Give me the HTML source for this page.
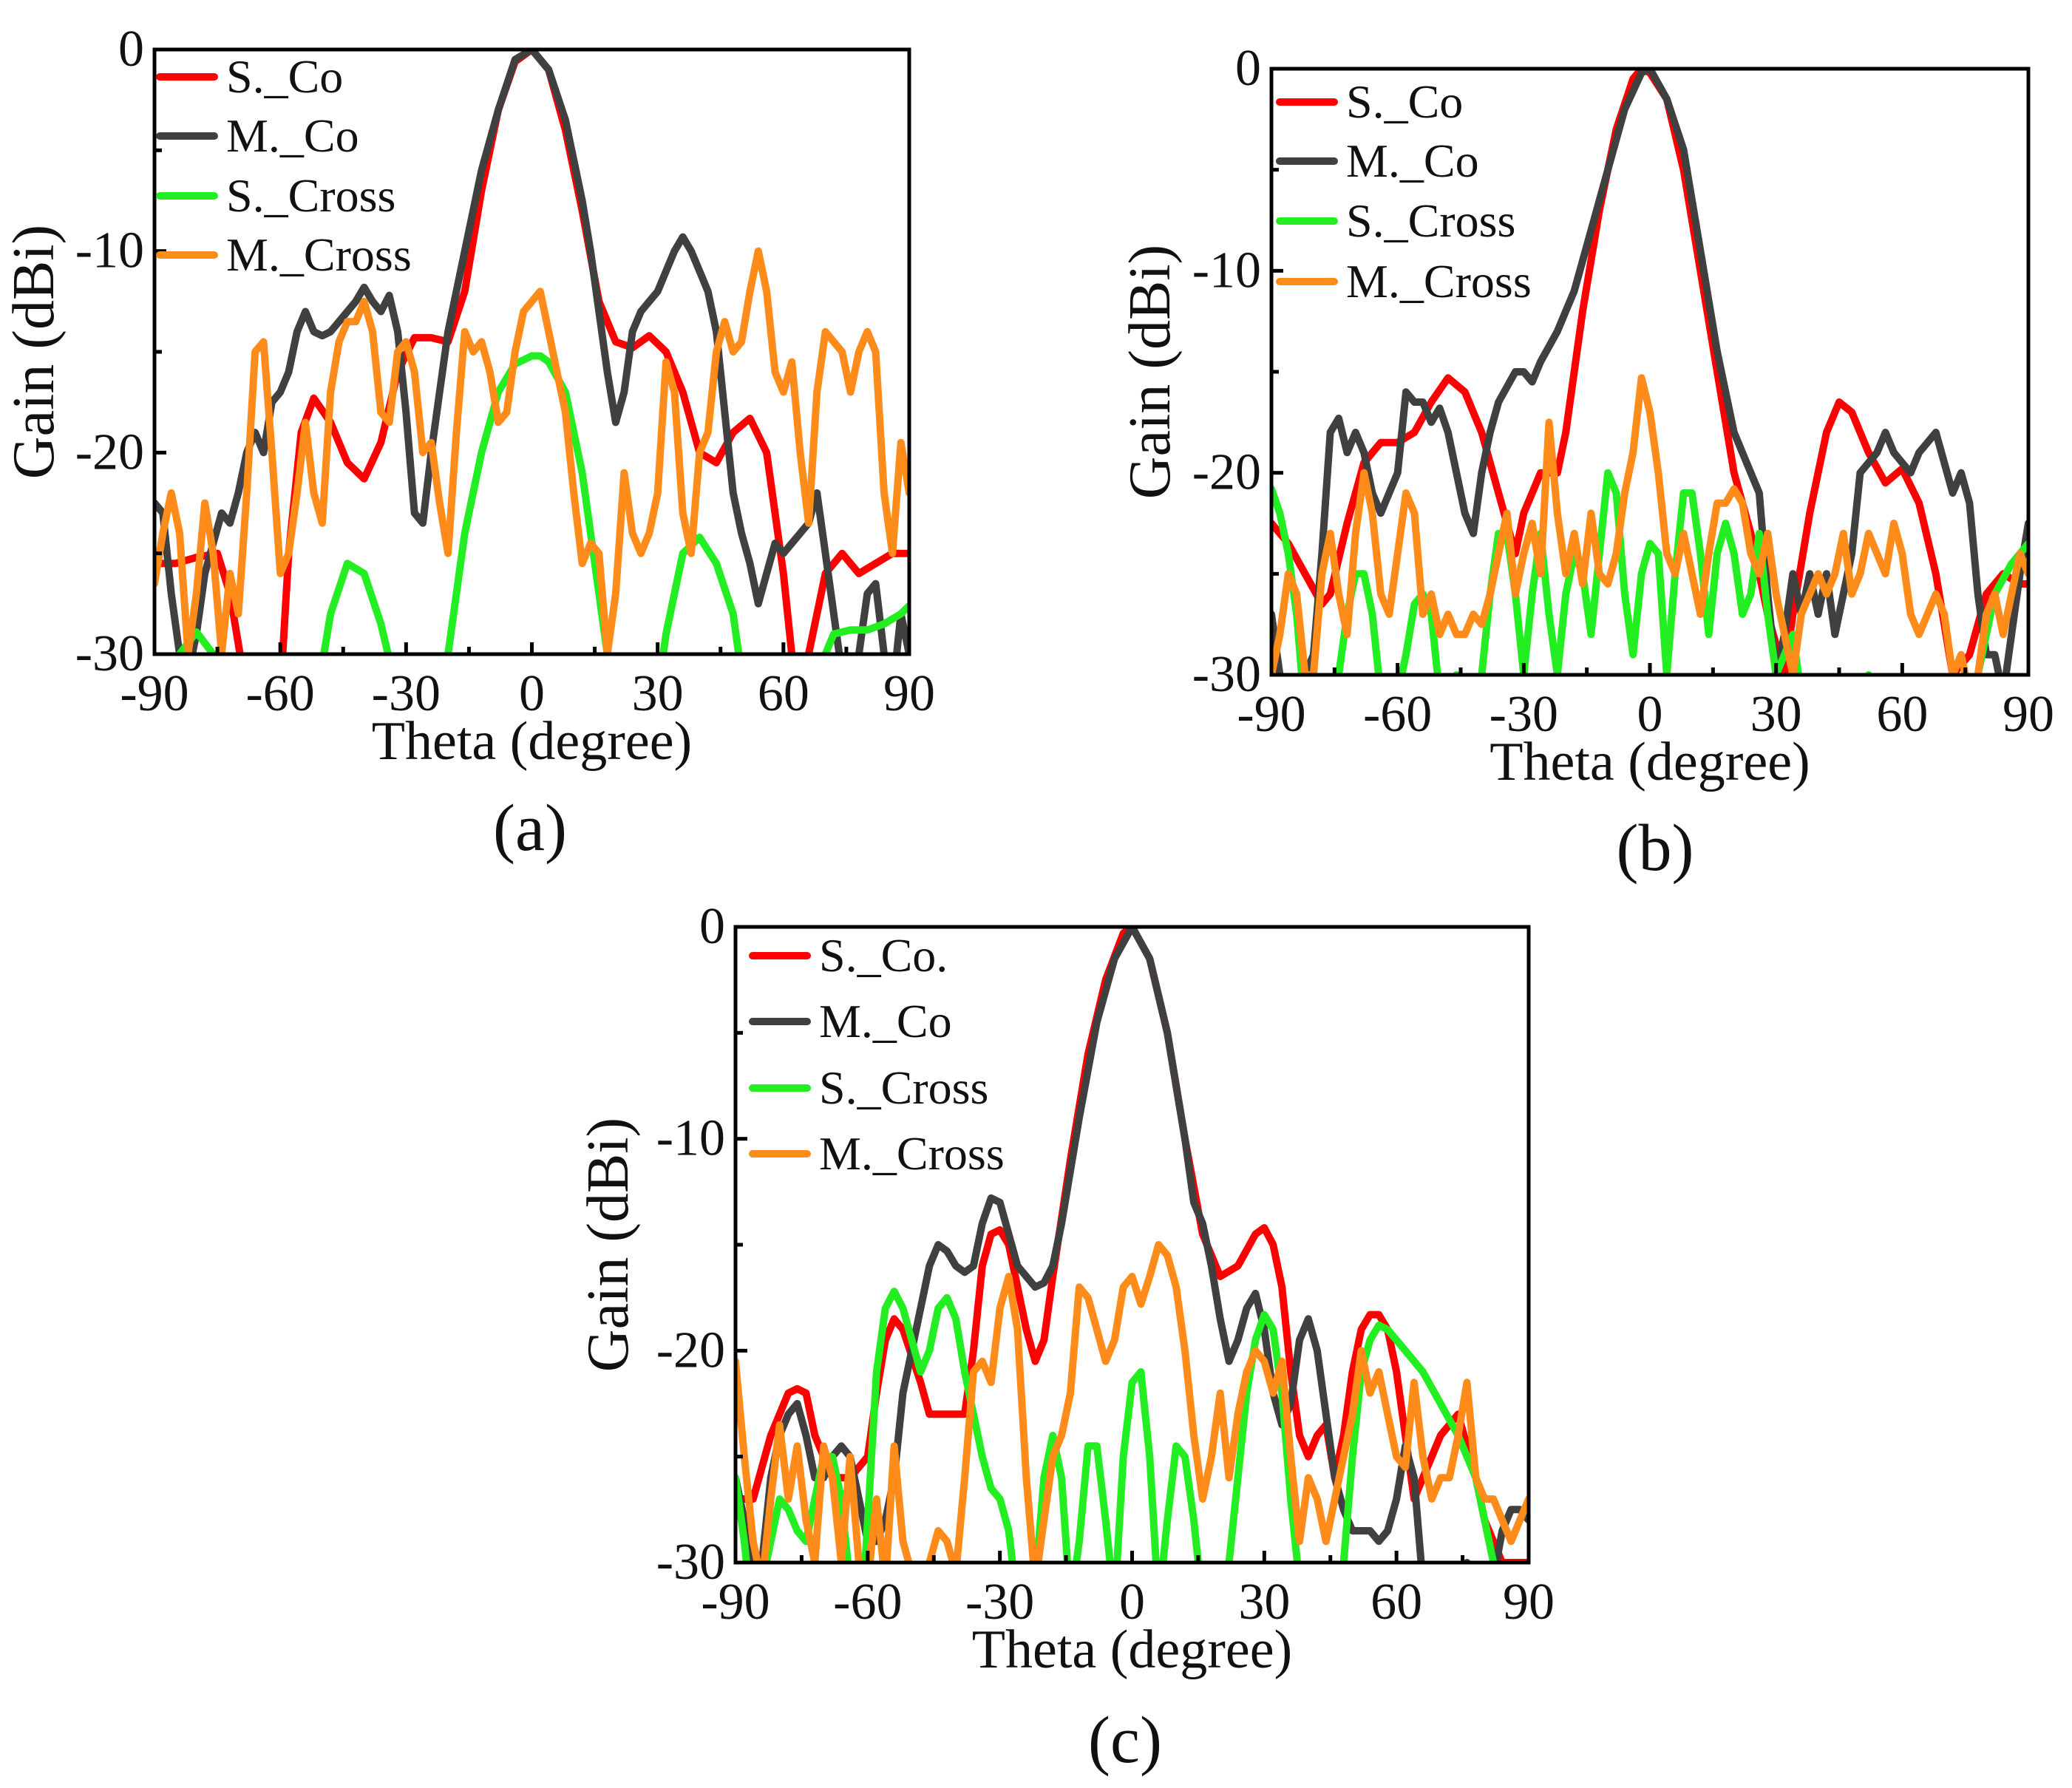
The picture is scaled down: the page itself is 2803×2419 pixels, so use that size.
<!DOCTYPE html>
<html><head><meta charset="utf-8"><style>
html,body{margin:0;padding:0;background:#fff;}
svg{display:block;}
text{font-family:"Liberation Serif",serif;fill:#111;}
</style></head><body>
<svg id="fig" width="2803" height="2419" viewBox="0 0 2803 2419" xmlns="http://www.w3.org/2000/svg"></svg>
<script>
// ---------- Panel (a) data ----------
const aScoT=[-90,-85,-80,-75,-72,-68,-60,-58,-55,-52,-48,-44,-40,-36,-32,-28,-24,-20,-16,-12,-8,-4,0,4,8,12,16,20,24,28,32,36,40,44,48,52,56,60,63,66,70,74,78,82,86,90];
const aScoG=[-25.5,-25.5,-25.2,-25,-27,-32,-32,-25,-19,-17.3,-18.5,-20.5,-21.3,-19.5,-16,-14.3,-14.3,-14.5,-12,-7,-3,-0.6,0,-1,-4,-8,-12.5,-14.5,-14.8,-14.2,-15,-17,-20,-20.5,-19,-18.3,-20,-26,-32,-30,-26,-25,-26,-25.5,-25,-25];
const aMcoT=[-90,-88,-86,-84,-82,-80,-78,-76,-74,-72,-70,-68,-66,-64,-62,-60,-58,-56,-54,-52,-50,-48,-46,-44,-42,-40,-38,-36,-34,-32,-30,-28,-26,-24,-22,-20,-16,-12,-8,-4,0,4,8,12,14,16,18,20,22,24,26,28,30,32,34,36,38,40,42,44,46,48,50,52,54,56,58,60,62,64,66,68,70,72,74,76,78,80,82,84,86,88,90];
const aMcoG=[-22.5,-23,-27,-30,-31,-29,-26,-24.5,-23,-23.5,-22,-20,-19,-20,-17.5,-17,-16,-14,-13,-14,-14.2,-14,-13.5,-13,-12.5,-11.8,-12.5,-13,-12.2,-14,-18,-23,-23.5,-20,-17,-14,-10,-6,-3,-0.5,0,-1,-3.5,-7.5,-10,-13,-16,-18.5,-17,-14,-13,-12.5,-12,-11,-10,-9.3,-10,-11,-12,-14,-18,-22,-24,-25.5,-27.5,-26,-24.5,-25,-24.5,-24,-23.5,-22,-25,-28,-31,-33,-30,-27,-26.5,-30,-32,-28,-30];
const aScrT=[-90,-84,-80,-76,-74,-60,-52,-48,-44,-40,-36,-32,-28,-22,-20,-16,-12,-8,-4,0,2,4,8,12,16,18,20,26,30,32,36,40,44,48,50,56,66,70,72,76,80,84,88,90];
const aScrG=[-31,-30,-28.9,-30,-32,-40,-33,-28,-25.5,-26,-28.5,-32,-40,-34,-30,-24,-20,-17,-15.6,-15.2,-15.2,-15.5,-17,-21,-27,-30,-34,-40,-32,-29,-25,-24.2,-25.5,-28,-31,-40,-34,-30,-29,-28.8,-28.8,-28.5,-28,-27.6];
const aMcrT=[-90,-88,-86,-84,-82,-80,-78,-76,-74,-72,-70,-68,-66,-64,-62,-60,-58,-56,-54,-52,-50,-48,-46,-44,-42,-40,-38,-36,-34,-32,-30,-28,-26,-24,-22,-20,-18,-16,-14,-12,-10,-8,-6,-4,-2,0,2,4,6,8,10,12,14,16,18,20,22,24,26,28,30,32,34,36,38,40,42,44,46,48,50,52,54,56,58,60,62,64,66,68,70,72,74,76,78,80,82,84,86,88,90];
const aMcrG=[-26.5,-24,-22,-24,-30,-27,-22.5,-25,-30,-26,-28,-22,-15,-14.5,-20,-26,-25,-22,-18.5,-22,-23.5,-17,-14.5,-13.5,-13.5,-12.5,-14,-18,-18.5,-15,-14.5,-16,-20,-19.5,-22.5,-25,-19,-14,-15,-14.5,-16,-18.5,-18,-15,-13,-12.5,-12,-14,-16,-18,-22,-25.5,-24.5,-25,-30,-27,-21,-24,-25,-24,-22,-15.5,-17,-23,-25,-20,-19,-15,-13.5,-15,-14.5,-12,-10,-12,-16,-17,-15.5,-20,-23.5,-17,-14,-14.5,-15,-17,-15,-14,-15,-22,-25,-19.5,-22];
// ---------- Panel (b) data ----------
const bScoT=[-90,-86,-82,-78,-76,-72,-68,-64,-60,-56,-52,-48,-44,-40,-36,-32,-30,-26,-22,-20,-16,-12,-8,-4,-2,0,4,8,12,16,20,24,28,32,34,38,42,45,48,52,56,60,64,68,72,76,80,84,88,90];
const bScoG=[-22.5,-23.5,-25,-26.5,-26,-22.5,-19.5,-18.5,-18.5,-18,-16.5,-15.3,-16,-18,-21,-24,-22,-20,-20,-18,-12,-7,-3,-0.5,0,-0.2,-1.5,-5,-10,-15,-20,-23,-27,-30,-27,-22,-18,-16.5,-17,-19,-20.5,-19.8,-21.5,-25,-30,-29,-26,-25,-25.5,-25.5];
const bMcoT=[-90,-88,-84,-80,-78,-76,-74,-72,-70,-68,-66,-64,-62,-60,-58,-56,-54,-52,-50,-48,-46,-44,-42,-40,-38,-36,-32,-30,-28,-26,-22,-18,-14,-10,-6,-2,0,4,8,12,16,20,24,26,28,30,32,34,36,38,40,42,44,46,48,50,52,54,56,58,60,62,64,66,68,70,72,74,76,78,80,82,84,86,88,90];
const bMcoG=[-27,-30,-31,-29,-24,-18,-17.3,-19,-18,-19,-21,-22,-21,-20,-16,-16.5,-16.5,-17.5,-16.8,-18,-20,-22,-23,-20,-18,-16.5,-15,-15,-15.5,-14.5,-13,-11,-8,-5,-2,-0.2,0,-1.5,-4,-9,-14,-18,-20,-21,-26,-30,-28,-25,-27,-25,-27,-25,-28,-26,-24,-20,-19.5,-19,-18,-19,-19.5,-20,-19,-18.5,-18,-19.5,-21,-20,-21.5,-26,-29,-29,-31,-28,-25,-22.5];
const bScrT=[-90,-88,-86,-84,-82,-78,-74,-72,-70,-68,-66,-64,-62,-60,-58,-56,-54,-52,-50,-48,-46,-44,-42,-40,-38,-36,-34,-32,-30,-28,-26,-24,-22,-20,-18,-16,-14,-12,-10,-8,-6,-4,-2,0,2,4,6,8,10,12,14,16,18,20,22,24,26,28,30,32,34,36,40,48,52,54,60,74,78,80,82,86,90];
const bScrG=[-20.8,-22,-24,-27,-32,-35,-30,-27,-25,-25,-27,-31,-34,-31,-29,-26.5,-26,-27,-31,-34,-30,-31,-34,-30,-26,-23,-23,-26,-30,-26,-23,-27,-30,-26,-24,-25,-28,-24,-20,-21,-26,-29,-25,-23.5,-24,-30,-25,-21,-21,-24,-28,-24,-22.5,-24,-27,-26,-23,-27,-30,-29,-28,-31,-40,-33,-30,-30.5,-40,-35,-30,-28,-26,-24.5,-23.5];
const bMcrT=[-90,-88,-86,-84,-82,-80,-78,-76,-74,-72,-70,-68,-66,-64,-62,-60,-58,-56,-54,-52,-50,-48,-46,-44,-42,-40,-38,-36,-34,-32,-30,-28,-26,-24,-22,-20,-18,-16,-14,-12,-10,-8,-6,-4,-2,0,2,4,6,8,10,12,14,16,18,20,22,24,26,28,30,32,34,36,38,40,42,44,46,48,50,52,54,56,58,60,62,64,66,68,70,72,74,76,78,80,82,84,86,88,90];
const bMcrG=[-30,-28,-25,-26,-30,-30,-25,-23,-26,-28,-23,-20,-22,-26,-27,-24,-21,-22,-27,-26,-28,-27,-28,-28,-27,-27.5,-26,-24,-22,-26,-24,-22.5,-25,-17.5,-22,-25,-23,-25.5,-22,-25,-25.5,-24,-21,-19,-15.3,-17,-20,-24,-25,-23,-25,-27,-24,-21.5,-21.5,-20.8,-21.5,-24,-25,-23,-26,-28,-30,-27,-26,-25,-26,-25,-23,-26,-25,-23,-24,-25,-22.5,-24,-27,-28,-27,-26,-27,-30,-29,-31,-30,-27,-26,-28,-26,-24,-25];
// ---------- Panel (c) data ----------
const cScoT=[-90,-86,-82,-78,-76,-74,-72,-68,-64,-60,-58,-56,-54,-52,-48,-46,-42,-38,-36,-34,-32,-30,-28,-26,-24,-22,-20,-18,-14,-10,-6,-2,0,4,8,12,16,20,24,28,30,32,34,36,38,40,42,44,46,48,50,52,54,56,58,60,62,64,66,68,70,74,76,78,80,84,88,90];
const cScoG=[-27,-27,-24,-22,-21.8,-22,-24,-26,-26,-25,-22,-19.5,-18.5,-19,-21.5,-23,-23,-23,-20,-16,-14.5,-14.3,-15,-17,-19,-20.5,-19.5,-16.5,-11,-6,-2.5,-0.3,0,-1.5,-5,-10,-14.5,-16.5,-16,-14.5,-14.2,-15,-17,-21,-24,-25,-24,-23.5,-26,-24,-21,-19,-18.3,-18.3,-19,-21,-24,-27,-26,-25,-24,-23,-24.5,-26,-28,-30,-30,-30];
const cMcoT=[-90,-88,-86,-84,-82,-80,-78,-76,-74,-72,-70,-68,-66,-64,-62,-60,-58,-56,-54,-52,-50,-48,-46,-44,-42,-40,-38,-36,-34,-32,-30,-28,-26,-22,-20,-18,-16,-12,-8,-4,0,4,8,12,14,16,18,20,22,24,26,28,30,32,34,36,38,40,42,44,46,48,50,52,54,56,58,60,62,64,66,68,74,76,78,80,84,86,88,90];
const cMcoG=[-26,-28,-30,-30,-26,-24,-23,-22.5,-24,-26,-26,-25,-24.5,-25,-27,-29,-29,-28,-26,-22,-20,-18,-16,-15,-15.3,-16,-16.3,-16,-14,-12.8,-13,-14.5,-16,-17,-16.8,-16,-14,-9,-4.5,-1.5,0,-1.5,-5,-10,-13,-14,-16,-18.5,-20.5,-19.5,-18,-17.3,-19,-22,-23.5,-22.5,-19.5,-18.5,-20,-23,-26,-27.5,-28.5,-28.5,-28.5,-29,-28.5,-27,-24.5,-26,-31,-34,-32,-30,-30.5,-33,-28.5,-27.5,-27.5,-28];
const cScrT=[-90,-88,-86,-82,-80,-78,-76,-74,-72,-70,-68,-66,-64,-62,-60,-58,-56,-54,-52,-50,-48,-46,-44,-42,-40,-38,-36,-34,-32,-30,-28,-26,-22,-20,-18,-16,-14,-12,-10,-8,-6,-4,-2,0,2,4,6,8,10,12,14,16,20,22,24,26,28,30,32,34,36,38,42,46,48,50,52,54,56,58,62,66,70,74,78,80,82,84,90];
const cScrG=[-26,-29,-33,-29,-27,-27.5,-28.5,-29,-27,-25,-25,-27,-31,-35,-28,-21,-18,-17.2,-18,-19.5,-21,-20,-18,-17.5,-18.5,-21,-23,-25,-26.5,-27,-28.5,-32,-31,-26,-24,-26,-32,-29,-24.5,-24.5,-28,-32,-25,-21.5,-21,-25,-32,-28,-24.5,-25,-28,-32,-33,-30,-26,-22,-19.5,-18.3,-19,-22,-27,-31,-34,-33,-30,-25,-21,-19.5,-18.8,-19,-20,-21,-22.5,-24,-26,-28,-30,-32,-35];
const cMcrT=[-90,-88,-86,-84,-82,-80,-78,-76,-74,-72,-70,-68,-66,-64,-62,-60,-58,-56,-54,-52,-50,-48,-46,-44,-42,-40,-38,-36,-34,-32,-30,-28,-26,-24,-22,-20,-18,-16,-14,-12,-10,-8,-6,-4,-2,0,2,4,6,8,10,12,14,16,18,20,22,24,26,28,30,32,34,36,38,40,42,44,46,48,50,52,54,56,58,60,62,64,66,68,70,72,74,76,78,80,82,84,86,88,90];
const cMcrG=[-20.5,-25,-29,-31,-27,-23.5,-27,-24.5,-28,-30,-24.5,-26,-30,-25,-30,-31,-27,-31,-24.5,-29,-30.5,-31,-30,-28.5,-29,-30.5,-26,-21,-20.5,-21.5,-18,-16.5,-19,-26,-31,-28,-25,-24,-22,-17,-17.5,-19,-20.5,-19.5,-17,-16.5,-17.8,-16.5,-15,-15.5,-17,-20,-24,-27,-25,-22,-26,-23,-21,-20,-20.5,-22,-20.5,-25,-29,-26,-27,-29,-27,-25,-23,-20,-22,-21,-23,-25,-25.5,-21.5,-25,-27,-26,-26,-24,-21.5,-26,-27,-27,-28,-29,-28,-27];
// ---------- Axis ticks ----------
const xTicks=[-90,-60,-30,0,30,60,90];
const xTickLabels=["-90","-60","-30","0","30","60","90"];
const yTicks=[0,-10,-20,-30];
const yTickLabels=["0","-10","-20","-30"];
const legendLabelsAB=["S._Co","M._Co","S._Cross","M._Cross"];
const legendLabelsC=["S._Co.","M._Co","S._Cross","M._Cross"];

const NS="http://www.w3.org/2000/svg";
const svg=document.getElementById('fig');
const COLORS=["#ff0000","#404040","#22ee22","#ff8c1a"];
function mk(tag,attrs,parent){const e=document.createElementNS(NS,tag);for(const k in attrs)e.setAttribute(k,attrs[k]);parent.appendChild(e);return e;}

function drawPanel(id,box,series,legend,leg,ytitleX,label,labelPos){
  const g=mk('g',{},svg);
  
  
  const xs=t=>box.x0+(t+90)/180*(box.x1-box.x0);
  const ys=v=>box.y0+(0-v)/30*(box.y1-box.y0);
  const cp=mk('clipPath',{id:'clip-'+id},g);
  mk('rect',{x:box.x0,y:box.y0,width:box.x1-box.x0,height:box.y1-box.y0},cp);
  const names=['s-co','m-co','s-cross','m-cross'];
  series.forEach((s,i)=>{
    const d=s.t.map((t,j)=>(j?'L':'M')+xs(t).toFixed(1)+' '+ys(s.g[j]).toFixed(1)).join(' ');
    const p=mk('path',{d:d,fill:'none',stroke:COLORS[i],'stroke-width':10,'stroke-linejoin':'round','stroke-linecap':'round','clip-path':'url(#clip-'+id+')'},g);
    
    
  });
  const fr=mk('rect',{x:box.x0,y:box.y0,width:box.x1-box.x0,height:box.y1-box.y0,fill:'none',stroke:'#000','stroke-width':5},g);
  
  
  for(let t=-90;t<=90;t+=15){
    const major=(t%30===0);
    mk('line',{x1:xs(t),x2:xs(t),y1:box.y1,y2:box.y1-(major?16:10),stroke:'#000','stroke-width':5},g);
  }
  for(let v=0;v>=-30;v-=5){
    const major=(v%10===0);
    mk('line',{x1:box.x0,x2:box.x0+(major?16:10),y1:ys(v),y2:ys(v),stroke:'#000','stroke-width':5},g);
  }
  xTicks.forEach((t,i)=>{
    const tx=mk('text',{x:xs(t),y:box.y1+76,'text-anchor':'middle','font-size':70},g);
    tx.textContent=xTickLabels[i];
    
    
  });
  yTicks.forEach((v,i)=>{
    const tx=mk('text',{x:box.x0-14,y:ys(v)+22,'text-anchor':'end','font-size':70},g);
    tx.textContent=yTickLabels[i];
    
    
  });
  const xt=mk('text',{x:(box.x0+box.x1)/2,y:box.y1+142,'text-anchor':'middle','font-size':74},g);
  xt.textContent='Theta (degree)';
  
  
  const ym=(box.y0+box.y1)/2;
  const yt=mk('text',{x:ytitleX,y:ym,'text-anchor':'middle','font-size':80,transform:'rotate(-90 '+ytitleX+' '+ym+')'},g);
  yt.textContent='Gain (dBi)';
  
  
  legend.forEach((L,i)=>{
    const y=leg.y[i];
    const ln=mk('line',{x1:leg.x,x2:leg.x+74,y1:y,y2:y,stroke:COLORS[i],'stroke-width':10,'stroke-linecap':'round'},g);
    
    
    const tx=mk('text',{x:leg.x+90,y:y+21,'font-size':64},g);
    tx.textContent=L;
    
    
  });
  const pl=mk('text',{x:labelPos[0],y:labelPos[1],'text-anchor':'middle','font-size':90},g);
  pl.textContent=label;
  
  
}

drawPanel('a',{x0:209,x1:1230,y0:67,y1:885},
  [{t:aScoT,g:aScoG},{t:aMcoT,g:aMcoG},{t:aScrT,g:aScrG},{t:aMcrT,g:aMcrG}],
  legendLabelsAB,{x:216,y:[104,184,265,345]},72,'(a)',[717,1150]);
drawPanel('b',{x0:1720,x1:2744,y0:93,y1:913},
  [{t:bScoT,g:bScoG},{t:bMcoT,g:bMcoG},{t:bScrT,g:bScrG},{t:bMcrT,g:bMcrG}],
  legendLabelsAB,{x:1731,y:[138,218,299,381]},1582,'(b)',[2239,1177]);
drawPanel('c',{x0:995,x1:2068,y0:1254,y1:2114},
  [{t:cScoT,g:cScoG},{t:cMcoT,g:cMcoG},{t:cScrT,g:cScrG},{t:cMcrT,g:cMcrG}],
  legendLabelsC,{x:1018,y:[1293,1382,1472,1561]},849,'(c)',[1522,2384]);
</script>
</body></html>
